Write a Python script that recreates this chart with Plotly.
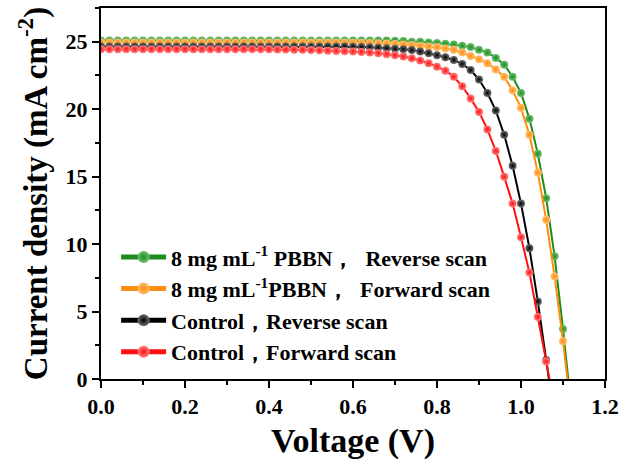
import plotly.graph_objects as go

voltage = [0.00, 0.02, 0.04, 0.06, 0.08, 0.10, 0.12, 0.14, 0.16, 0.18,
           0.20, 0.22, 0.24, 0.26, 0.28, 0.30, 0.32, 0.34, 0.36, 0.38,
           0.40, 0.42, 0.44, 0.46, 0.48, 0.50, 0.52, 0.54, 0.56, 0.58,
           0.60, 0.62, 0.64, 0.66, 0.68, 0.70, 0.72, 0.74, 0.76, 0.78,
           0.80, 0.82, 0.84, 0.86, 0.88, 0.90, 0.92, 0.94, 0.96, 0.98,
           1.00, 1.02, 1.04, 1.06, 1.08, 1.10, 1.12]

pbbn_reverse = [25.1] * 35 + [25.08, 25.05, 25.0, 25.0, 24.95, 24.9, 24.85, 24.8, 24.7, 24.6,
                             24.4, 24.2, 23.8, 23.3, 22.4, 21.2, 19.3, 16.7, 13.4, 9.1,
                             3.7, -2.2]
pbbn_forward = [24.95] * 30 + [24.93, 24.92, 24.9, 24.88, 24.86, 24.84, 24.8, 24.75, 24.7, 24.65,
                               24.6, 24.5, 24.4, 24.2, 23.95, 23.7, 23.4, 22.95, 22.4, 21.4,
                               20.1, 18.1, 15.3, 11.8, 7.6, 2.8, -2.5]
control_reverse = [24.65] * 30 + [24.63, 24.61, 24.59, 24.56, 24.52, 24.48, 24.44, 24.38, 24.27, 24.15,
                                  24.0, 23.85, 23.65, 23.35, 22.9, 22.2, 21.2, 19.9, 18.1, 15.8,
                                  13.0, 9.7, 5.75, 1.4, -3.0]
control_forward = [24.45] * 20 + [24.44, 24.43, 24.42, 24.41, 24.4, 24.38, 24.36, 24.34, 24.32, 24.3,
                                  24.27, 24.24, 24.2, 24.15, 24.08, 24.0, 23.9, 23.78, 23.6, 23.4,
                                  23.15, 22.85, 22.4, 21.7, 20.8, 19.8, 18.5, 16.9, 15.0, 13.0,
                                  10.5, 7.9, 4.6, 1.3, -2.0]

series_names = ["8 mg mL<sup>-1</sup> PBBN，  Reverse scan",
                "8 mg mL<sup>-1</sup>PBBN，  Forward scan",
                "Control，Reverse scan",
                "Control，Forward scan"]
series_values = [pbbn_reverse, pbbn_forward, control_reverse, control_forward]
series_colors = ["#1c8c1c", "#ff8c0a", "#000000", "#ff1010"]
series_light = ["#70c070", "#ffc070", "#707070", "#ff8080"]

x_ticks = [0.0, 0.2, 0.4, 0.6, 0.8, 1.0, 1.2]
y_ticks = [0, 5, 10, 15, 20, 25]

SERIF = "Liberation Serif, Times New Roman, serif"

fig = go.Figure()
for name, vals, col, light in zip(series_names, series_values, series_colors, series_light):
    fig.add_trace(go.Scatter(
        x=voltage[:len(vals)], y=vals, name=name, mode="lines+markers",
        line=dict(color=col, width=2),
        marker=dict(symbol="circle", size=8, color=light,
                    gradient=dict(type="radial", color=col),
                    line=dict(width=0)),
    ))

fig.update_layout(
    width=620, height=463,
    margin=dict(l=101, r=15, t=8, b=84, autoexpand=False),
    paper_bgcolor="white", plot_bgcolor="white",
    font=dict(family=SERIF, color="black"),
    showlegend=True,
    legend=dict(
        x=0.03, y=0.385, xanchor="left", yanchor="top",
        bgcolor="rgba(0,0,0,0)", itemwidth=45,
        font=dict(family=SERIF, size=22, color="black", weight="bold"),
        tracegroupgap=0, itemsizing="constant",
    ),
)
fig.update_xaxes(
    range=[0, 1.2], tickvals=x_ticks, ticktext=[f"{v:.1f}" for v in x_ticks],
    showgrid=False, zeroline=False, automargin=False,
    showline=True, linecolor="black", linewidth=2, mirror=True,
    ticks="outside", ticklen=7, tickwidth=2, tickcolor="black",
    minor=dict(dtick=0.1, ticks="outside", ticklen=4, tickwidth=2, tickcolor="black"),
    tickfont=dict(family=SERIF, size=22, color="black", weight="bold"),
    title=dict(text="Voltage (V)", font=dict(family=SERIF, size=34, color="black", weight="bold"),
               standoff=10),
)
fig.update_yaxes(
    range=[0, 27.5], tickvals=y_ticks,
    showgrid=False, zeroline=False, automargin=False,
    showline=True, linecolor="black", linewidth=2, mirror=True,
    ticks="outside", ticklen=7, tickwidth=2, tickcolor="black",
    minor=dict(dtick=2.5, ticks="outside", ticklen=4, tickwidth=2, tickcolor="black"),
    tickfont=dict(family=SERIF, size=22, color="black", weight="bold"),
    title=dict(text="Current density (mA cm<sup>-2</sup>)",
               font=dict(family=SERIF, size=33, color="black", weight="bold"), standoff=8),
)

fig.write_html("out.html", config={"displayModeBar": False},
               post_script="document.body.style.margin='0';document.body.style.overflow='hidden';")
